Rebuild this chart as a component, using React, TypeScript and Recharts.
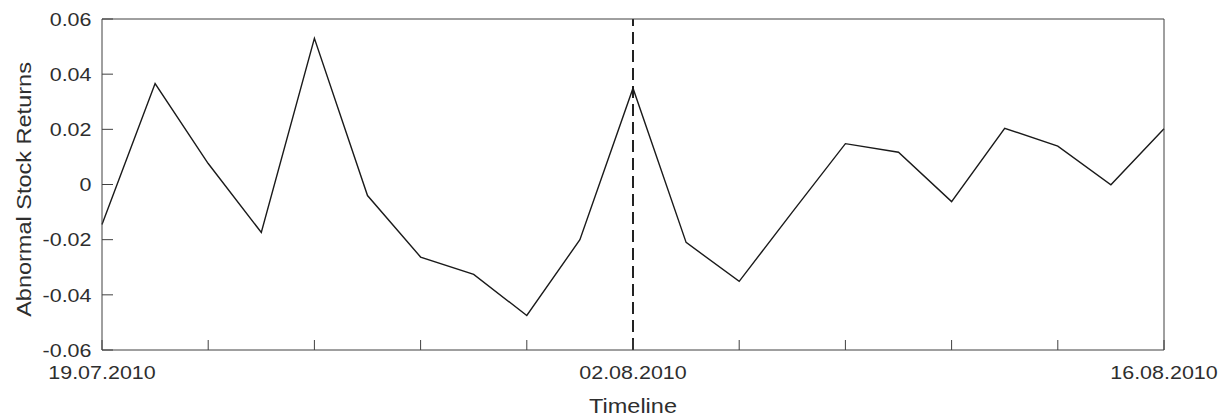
import { LineChart, Line, XAxis, YAxis, ReferenceLine, Label } from "recharts";

// trading days, 19.07.2010 – 16.08.2010
const dates = [
  "19.07.2010", "20.07.2010", "21.07.2010", "22.07.2010", "23.07.2010",
  "26.07.2010", "27.07.2010", "28.07.2010", "29.07.2010", "30.07.2010",
  "02.08.2010", "03.08.2010", "04.08.2010", "05.08.2010", "06.08.2010",
  "09.08.2010", "10.08.2010", "11.08.2010", "12.08.2010", "13.08.2010",
  "16.08.2010",
];

const abnormalReturns = [
  -0.0145, 0.0366, 0.0076, -0.0174, 0.053,
  -0.004, -0.0263, -0.0326, -0.0475, -0.02,
  0.0349, -0.021, -0.0351, -0.01, 0.0148,
  0.0117, -0.0062, 0.0204, 0.0139, -0.0001,
  0.0202,
];

const labeledDates = ["19.07.2010", "02.08.2010", "16.08.2010"];
const eventDate = "02.08.2010";
const yTicks = [-0.06, -0.04, -0.02, 0, 0.02, 0.04, 0.06];

const data = dates.map((date, i) => ({ date, ar: abnormalReturns[i] }));
const xTicks = dates.filter((_, i) => i % 2 === 0);

const FONT = "Arial, 'Liberation Sans', Helvetica, sans-serif";
const TEXT = "#2e2e2e";
const AXIS = "#404040";

/* eslint-disable @typescript-eslint/no-explicit-any */
const XTick = ({ x, y, payload }: any) => {
  if (!labeledDates.includes(payload.value)) return <g />;
  return (
    <g transform={`translate(${x},${y}) scale(1.13,1)`}>
      <text textAnchor="middle" dy="0.71em" fontSize={19} fontFamily={FONT} fill={TEXT}>
        {payload.value}
      </text>
    </g>
  );
};

const YTick = ({ x, y, payload }: any) => (
  <g transform={`translate(${x},${y}) scale(1.13,1)`}>
    <text textAnchor="end" dy="0.355em" fontSize={19} fontFamily={FONT} fill={TEXT}>
      {String(payload.value)}
    </text>
  </g>
);

const XTitle = ({ viewBox }: any) => {
  const cx = viewBox.x + viewBox.width / 2;
  return (
    <g transform={`translate(${cx},${viewBox.y + 63}) scale(1.12,1)`}>
      <text textAnchor="middle" fontSize={21} fontFamily={FONT} fill={TEXT}>Timeline</text>
    </g>
  );
};

const YTitle = ({ viewBox }: any) => {
  const cy = viewBox.y + viewBox.height / 2 + 5;
  return (
    <g transform={`translate(31,${cy}) rotate(-90) scale(1.12,1)`}>
      <text textAnchor="middle" fontSize={21} fontFamily={FONT} fill={TEXT}>Abnormal Stock Returns</text>
    </g>
  );
};
/* eslint-enable @typescript-eslint/no-explicit-any */

export default function App() {
  return (
    <div style={{ position: "fixed", left: 0, top: 0, background: "#fff" }}>
      <LineChart width={1231} height={419} data={data}
                 margin={{ top: 18, right: 66, bottom: 68, left: 101 }}>
        <XAxis dataKey="date" height={1} ticks={xTicks} interval={0}
               tickSize={-10} tickMargin={25} tick={<XTick />}
               stroke={AXIS} tickLine={{ stroke: AXIS }}>
          <Label content={<XTitle />} />
        </XAxis>
        <XAxis xAxisId="top" orientation="top" dataKey="date" height={1}
               ticks={xTicks} interval={0} tickSize={-10} tick={false} stroke={AXIS} />
        <YAxis domain={[-0.06, 0.06]} ticks={yTicks} interval={0} width={1}
               tickSize={-11} tickMargin={21.5} tick={<YTick />} stroke={AXIS}>
          <Label content={<YTitle />} />
        </YAxis>
        <YAxis yAxisId="right" orientation="right" domain={[-0.06, 0.06]} ticks={yTicks}
               interval={0} width={1} tickSize={-11} tick={false} stroke={AXIS} />
        <ReferenceLine x={eventDate} stroke="#222" strokeWidth={2} strokeDasharray="12 6" />
        <Line dataKey="ar" type="linear" stroke="#1a1a1a" strokeWidth={1.4}
              dot={false} activeDot={false} isAnimationActive={false} />
      </LineChart>
    </div>
  );
}
